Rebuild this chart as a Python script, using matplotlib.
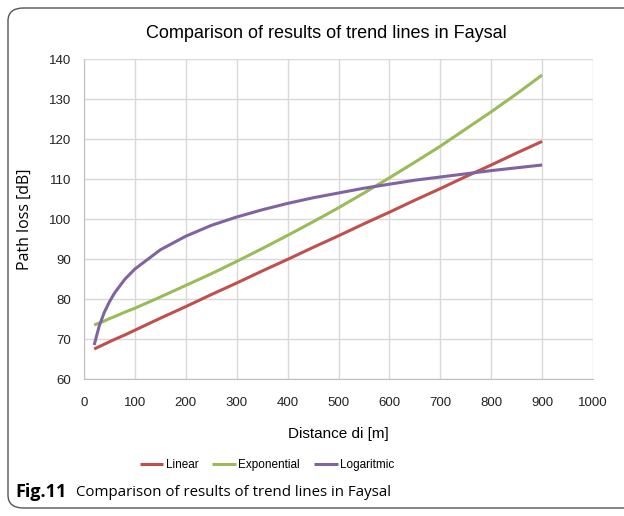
import matplotlib
matplotlib.use("Agg")
import matplotlib.pyplot as plt
from matplotlib.patches import FancyBboxPatch

dist = [20, 30, 40, 50, 60, 80, 100, 150, 200, 250, 300, 350, 400, 450,
        500, 550, 600, 650, 700, 750, 800, 850, 900]

linear = [67.5, 68.1, 68.7, 69.3, 69.9, 71.0, 72.2, 75.2, 78.1, 81.1, 84.0,
          87.0, 89.9, 92.9, 95.8, 98.8, 101.7, 104.7, 107.6, 110.6, 113.5,
          116.5, 119.4]
exponential = [73.5, 74.0, 74.5, 75.1, 75.6, 76.7, 77.7, 80.5, 83.4, 86.3,
               89.4, 92.6, 95.9, 99.3, 102.8, 106.5, 110.3, 114.2, 118.2,
               122.5, 126.8, 131.3, 136.0]
logarithmic = [68.5, 73.3, 76.7, 79.3, 81.5, 84.9, 87.5, 92.3, 95.7, 98.4,
               100.5, 102.3, 103.9, 105.3, 106.5, 107.7, 108.7, 109.7, 110.5,
               111.3, 112.1, 112.8, 113.5]

labels = ["Linear", "Exponential", "Logaritmic"]
colors = ["#c0504d", "#9bbb59", "#8064a2"]

plt.rcParams['font.family'] = ['Liberation Sans', 'DejaVu Sans']

fig = plt.figure(figsize=(6.24, 5.16), dpi=100)

# rounded frame around the figure
frame = FancyBboxPatch((8 / 624, 8 / 516), 640 / 624, 500 / 516,
                       boxstyle="round,pad=0,rounding_size=0.025",
                       transform=fig.transFigure, fill=False,
                       edgecolor="#555555", linewidth=1.0)
fig.patches.append(frame)

ax = fig.add_axes([84 / 624, 1 - 379 / 516, (593 - 84) / 624, (379 - 59) / 516])
for series, lab, col in zip([linear, exponential, logarithmic], labels, colors):
    ax.plot(dist, series, color=col, linewidth=2.2, label=lab,
            solid_capstyle="butt")

ax.set_xlim(0, 1000)
ax.set_ylim(60, 140)
ax.set_xticks(range(0, 1001, 100))
ax.set_yticks(range(60, 141, 10))
ax.grid(True, color="#d9d9d9", linewidth=1.0)
ax.set_axisbelow(True)
for s in ["top", "right"]:
    ax.spines[s].set_visible(False)
for s in ["left", "bottom"]:
    ax.spines[s].set_color("#bfbfbf")
ax.tick_params(axis="y", length=0, labelsize=9.5, pad=9, colors="#222222")
ax.tick_params(axis="x", length=0, labelsize=9.5, pad=13, colors="#222222")

ax.set_xlabel("Distance di [m]", fontsize=11, labelpad=13)
ax.set_ylabel("Path loss [dB]", fontsize=11.5, labelpad=12,
              family=["Open Sans", "DejaVu Sans"])
fig.text(326 / 624, 1 - 33 / 516, "Comparison of results of trend lines in Faysal",
         ha="center", va="center", fontsize=13)

ax.legend(loc="center", bbox_to_anchor=((267 - 84) / 509, (379 - 465) / 320), ncol=3,
          frameon=False, fontsize=8.5, handlelength=2.0, handletextpad=0.2,
          columnspacing=1.2)

fig.text(15 / 624, 1 - 492 / 516, "Fig.11", fontsize=13, fontweight="bold",
         family=["Open Sans", "DejaVu Sans"], va="center", ha="left")
fig.text(76 / 624, 1 - 492 / 516, "Comparison of results of trend lines in Faysal",
         fontsize=10.8, family=["Open Sans", "DejaVu Sans"], va="center", ha="left")

fig.savefig("out.png", dpi=100)
